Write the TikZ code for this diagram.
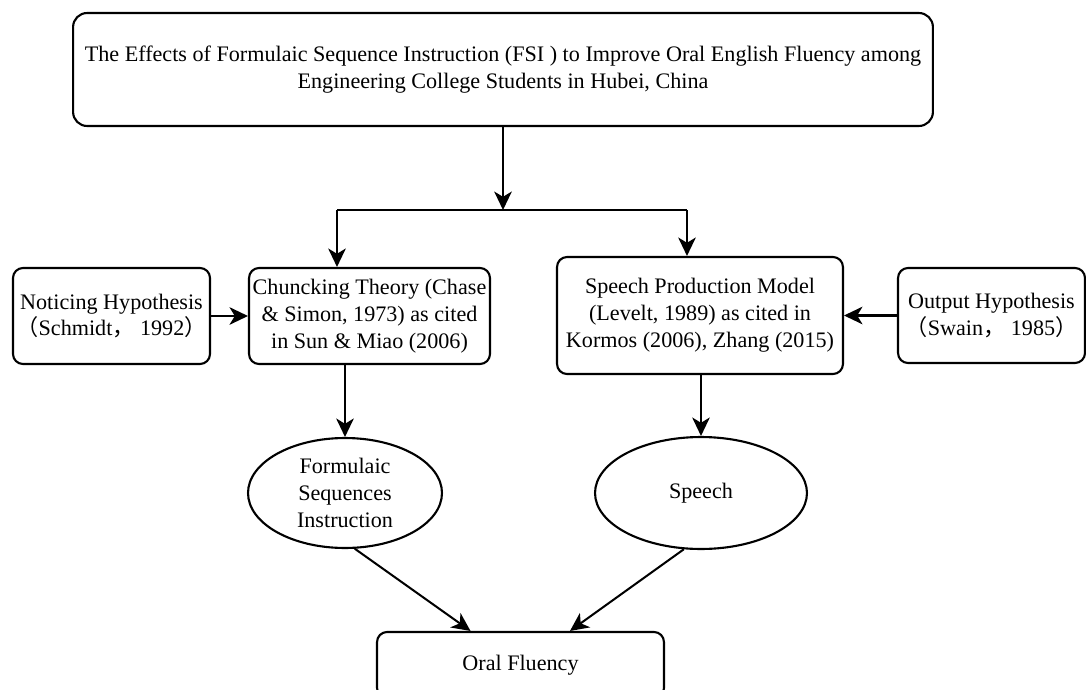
\documentclass[tikz,border=0pt]{standalone}
\usepackage{fontspec}
\setmainfont{Liberation Serif}
\newfontfamily\cjk{Noto Sans CJK SC}
\usepackage{tikz}
\usetikzlibrary{arrows.meta,shapes.geometric}

\begin{document}
\begin{tikzpicture}[
  x=0.02cm,y=-0.02cm,
  font=\fontsize{12.6}{15.3}\selectfont,
  base/.style={draw=black,line width=1.2pt,fill=white,rounded corners=0.2cm,align=center,inner sep=2pt},
  oval/.style={draw=black,line width=1.2pt,fill=white,ellipse,align=center,inner sep=0pt},
  fl/.style={-{Stealth[length=10.5pt,width=10pt,inset=3pt]},draw=black,line width=1.15pt},
  ln/.style={draw=black,line width=1.15pt},
]
\useasboundingbox (0,0) rectangle (1086,690);
\node[base,rounded corners=0.28cm,minimum width=17.2cm,minimum height=2.26cm] (title) at (503,69.5) {The Effects of Formulaic Sequence Instruction (FSI ) to Improve Oral English Fluency among\\Engineering College Students in Hubei, China};
\node[base,minimum width=3.9cm,minimum height=1.92cm] (notice) at (111.5,316) {Noticing Hypothesis\\{\cjk （}Schmidt{\cjk ，} 1992{\cjk ）}};
\node[base,minimum width=4.82cm,minimum height=1.92cm] (chunk) at (369.5,316) {Chuncking Theory (Chase\\\& Simon, 1973) as cited\\in Sun \& Miao (2006)};
\node[base,minimum width=5.72cm,minimum height=2.34cm] (model) at (700,315.5) {Speech Production Model\\(Levelt, 1989) as cited in\\Kormos (2006), Zhang (2015)};
\node[base,minimum width=3.74cm,minimum height=1.9cm] (output) at (991.5,315.5) {Output Hypothesis\\{\cjk （}Swain{\cjk ，} 1985{\cjk ）}};
\node[oval,minimum width=3.88cm,minimum height=2.2cm] (fsi) at (345,493) {Formulaic\\Sequences\\Instruction};
\node[oval,minimum width=4.24cm,minimum height=2.24cm] (speech) at (701,493) {Speech};
\node[base,minimum width=5.74cm,minimum height=1.32cm] (oral) at (520.5,665) {Oral Fluency};
\coordinate (split) at (503,210);
\coordinate (splitL) at (337,210);
\coordinate (splitR) at (687,210);
\draw[fl] (title) -- (split);
\draw[ln] (splitL) -- (splitR);
\draw[fl] (splitL) -- (splitL |- chunk.north);
\draw[fl] (splitR) -- (splitR |- model.north);
\draw[fl] (notice) -- (chunk);
\draw[fl] (output.west) -- (output.west -| model.east);
\draw[fl] (chunk.south -| fsi.north) -- (fsi.north);
\draw[fl] (model.south -| speech.north) -- (speech.north);
\draw[fl] (fsi.-80) -- ([xshift=-1cm]oral.north);
\draw[fl] (speech.-107) -- ([xshift=0.99cm]oral.north);
\end{tikzpicture}
\end{document}
